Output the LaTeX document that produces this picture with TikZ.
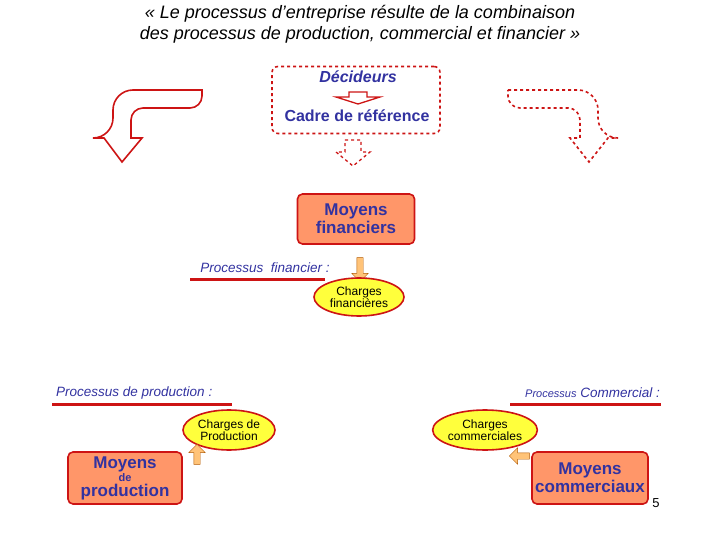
\documentclass[tikz,border=0pt]{standalone}
\usepackage{fontspec}
\setmainfont{Liberation Sans}
\usetikzlibrary{shapes,arrows.meta,positioning}
\definecolor{rouge}{RGB}{205,20,20}
\definecolor{saumon}{RGB}{255,150,105}
\definecolor{bleu}{RGB}{50,50,160}
\definecolor{jaune}{RGB}{255,255,60}
\definecolor{orangec}{RGB}{255,195,120}

\begin{document}
\begin{tikzpicture}
      [x=1pt, y=-1pt,
      box style/.style={draw=rouge, line width=1.6pt, rectangle, rounded corners=5pt, fill=saumon, align=center, text=bleu, font=\bfseries\fontsize{17}{18}\selectfont, inner sep=1pt},
      charge style/.style={draw=rouge, line width=1.6pt, ellipse, fill=jaune, align=center, inner sep=0pt, font=\fontsize{12}{12}\selectfont},
      proc style/.style={text=bleu, font=\itshape\fontsize{13.5}{15}\selectfont, inner sep=1pt},
      trait/.style={rouge, line width=3pt},
      fleche/.style={draw=rouge, line width=1.6pt},
      petite/.style={single arrow, draw=orange!70!black, fill=orangec, minimum height=24pt, single arrow head extend=5pt, inner sep=3pt}
      ]
      \useasboundingbox (0,0) rectangle (720,540);

      % titre
      \node[font=\itshape\fontsize{18}{21}\selectfont, align=center] (titre) at (360,24)
        {« Le processus d’entreprise résulte de la combinaison\\des processus de production, commercial et financier »};

      % cadre de reference
      \node[draw=rouge, dashed, line width=1.6pt, rounded corners=6pt, minimum width=168pt, minimum height=67pt] (cadre) at (356,100) {};
      \node[text=bleu, font=\bfseries\itshape\fontsize{16}{16}\selectfont] (decid) at (358,77) {Décideurs};
      \node[text=bleu, font=\bfseries\fontsize{16}{16}\selectfont] (cadreref) at (357,116) {Cadre de référence};
      \draw[fleche, line width=1.3pt] (349,92) -- (367,92) -- (367,97) -- (380,97) -- (358,104) -- (336,97) -- (349,97) -- cycle;
      \draw[fleche, dashed, line width=1.3pt] (345,140) -- (361,140) -- (361,152) -- (370,152) -- (353,166) -- (336,152) -- (345,152) -- cycle;

      % fleches coudees
      \draw[fleche] [rounded corners=20pt] (202,90) -- (113,90) -- (113,138) [sharp corners] -- (104,138) -- (122,162) -- (142,138) -- (131,138) [rounded corners=12pt] -- (131,108) -- (202,108) [sharp corners] -- cycle;
      \draw[fleche, dashed] [rounded corners=20pt] (508,90) -- (598,90) -- (598,138) [sharp corners] -- (608,138) -- (589,162) -- (570,138) -- (580,138) [rounded corners=12pt] -- (580,108) -- (508,108) [sharp corners] -- cycle;

      % processus financier
      \node[box style, minimum width=117pt, minimum height=50pt] (mfin) at (356,219) {Moyens\\financiers};
      \node[proc style] (pfin) at (265,268) {Processus\ \ financier :};
      \draw[trait] (190,279) -- (325,279);
      \node[petite, shape border rotate=270] (afin) at (360,268) {};
      \node[charge style, minimum width=90pt, minimum height=38pt] (cfin) at (359,297) {Charges\\financières};

      % processus de production
      \node[proc style, anchor=west] (pprod) at (55,393) {Processus de production :};
      \draw[trait] (52,404) -- (232,404);
      \node[charge style, minimum width=92pt, minimum height=40pt] (cprod) at (229,430) {Charges de\\Production};
      \node[box style, minimum width=114pt, minimum height=52pt] (mprod) at (125,478) {Moyens\\[-5pt]{\fontsize{11}{11}\selectfont de}\\[-3pt]production};
      \node[petite, minimum height=20pt, shape border rotate=45] (aprod) at (197,456) {};

      % processus commercial
      \node[proc style, anchor=east] (pcom) at (661,393) {{\fontsize{11}{11}\selectfont Processus} Commercial :};
      \draw[trait] (510,404) -- (661,404);
      \node[charge style, minimum width=86pt, minimum height=40pt] (ccom) at (485,430) {Charges\\commerciales};
      \node[box style, minimum width=116pt, minimum height=52pt] (mcom) at (590,478) {Moyens\\commerciaux};
      \node[petite, minimum height=20pt, shape border rotate=135] (acom) at (521,456) {};

      \node[font=\fontsize{13}{13}\selectfont] (num) at (656,503) {5};
\end{tikzpicture}
\end{document}
